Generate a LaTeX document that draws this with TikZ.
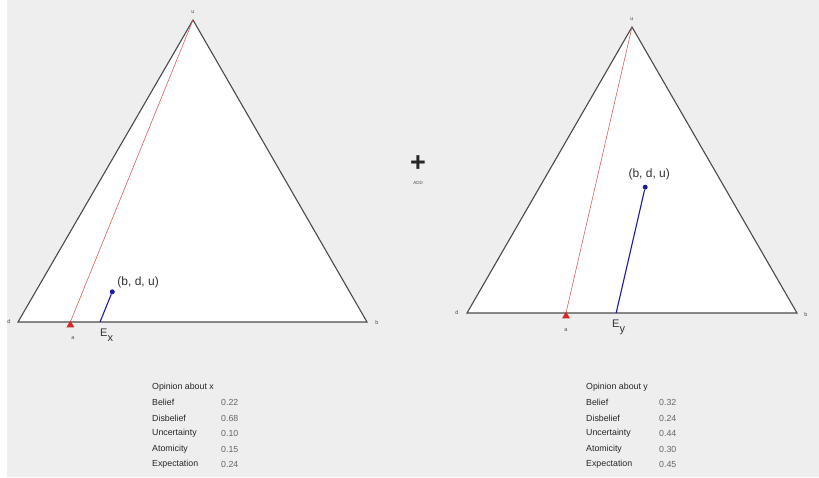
\documentclass[tikz,border=0pt]{standalone}
\usepackage{fontspec}
\setmainfont{Liberation Sans}
\usetikzlibrary{calc, positioning, shapes.geometric}
\definecolor{panelgray}{HTML}{EEEEEE}
\definecolor{edgegray}{HTML}{4A4A4A}
\definecolor{optblue}{HTML}{1C1CA0}
\definecolor{ratered}{HTML}{D42A2A}

\begin{document}
\begin{tikzpicture}[x=1pt, y=-1pt,
    simplex/.style={draw=edgegray, line width=1.1pt, fill=white},
    cornerlabel/.style={font=\fontsize{5.5}{6}\selectfont, text=black!70, inner sep=0pt},
    opdot/.style={circle, fill=optblue, inner sep=0pt, minimum size=5pt},
    oplabel/.style={font=\fontsize{12}{14}\selectfont, text=black!80, inner sep=0pt},
    projline/.style={draw=optblue, line width=1.1pt},
    rateline/.style={draw=ratered!75, line width=0.6pt},
    ratemark/.style={regular polygon, regular polygon sides=3, fill=ratered, inner sep=0pt, minimum size=9pt},
    explabel/.style={font=\fontsize{11}{13}\selectfont, text=black!80, inner sep=0pt},
    rowname/.style={font=\fontsize{8.8}{10}\selectfont, text=black!85, anchor=west, inner sep=0pt},
    rowvalue/.style={font=\fontsize{8.8}{10}\selectfont, text=black!60, anchor=west, inner sep=0pt}]
  % background
  \fill[panelgray] (0,0) rectangle (819,477);
  \fill[white] (0,0) rectangle (7,477);
  \useasboundingbox (0,0) rectangle (819,477);

  % opinion about x
  \coordinate (xd) at (18,322);
  \coordinate (xb) at (367,322);
  \coordinate (xu) at (193,20);
  \draw[simplex] (xd) -- (xb) -- (xu) -- cycle;
  \node[cornerlabel] (xul) at (193,12) {u};
  \node[cornerlabel] (xdl) at (9,322) {d};
  \node[cornerlabel] (xbl) at (377,323) {b};
  \coordinate (xa) at ($(xd)!0.15!(xb)$);
  \coordinate (xe) at ($(xd)!0.235!(xb)$);
  \draw[rateline] (xu) -- (xa);
  \node[ratemark] (xam) at ($(xa)+(0,3)$) {};
  \node[cornerlabel] (xal) at (73,338) {a};
  \node[opdot] (xp) at (barycentric cs:xb=0.22,xd=0.68,xu=0.10) {};
  \draw[projline] (xp) -- (xe);
  \node[oplabel, anchor=south west] (xpl) at ($(xp)+(5,-4)$) {(b, d, u)};
  \node[explabel, anchor=north west] (xel) at (100,329) {E\raisebox{-0.4em}{x}};

  % add
  \node[font=\fontsize{27}{27}\bfseries\selectfont, text=black!85, inner sep=0pt] (plus) at (418,164) {+};
  \node[cornerlabel, font=\fontsize{4.5}{5}\selectfont] (addl) at (418,183) {ADD};

  % opinion about y
  \coordinate (yd) at (467,313);
  \coordinate (yb) at (797,313);
  \coordinate (yu) at (632,27);
  \draw[simplex] (yd) -- (yb) -- (yu) -- cycle;
  \node[cornerlabel] (yul) at (632,19) {u};
  \node[cornerlabel] (ydl) at (457,313) {d};
  \node[cornerlabel] (ybl) at (806,315) {b};
  \coordinate (ya) at ($(yd)!0.30!(yb)$);
  \coordinate (ye) at ($(yd)!0.452!(yb)$);
  \draw[rateline] (yu) -- (ya);
  \node[ratemark] (yam) at ($(ya)+(0,3)$) {};
  \node[cornerlabel] (yal) at (566,330) {a};
  \node[opdot] (yp) at (barycentric cs:yb=0.32,yd=0.24,yu=0.44) {};
  \draw[projline] (yp) -- (ye);
  \node[oplabel, anchor=south] (ypl) at ($(yp)+(4,-7)$) {(b, d, u)};
  \node[explabel, anchor=north west] (yel) at (612,320) {E\raisebox{-0.4em}{y}};

  % table x
  \node[rowname] (xt0) at (152,387) {Opinion about x};
  \node[rowname] (xt1) at (152,402) {Belief};
  \node[rowname] (xt2) at (152,418) {Disbelief};
  \node[rowname] (xt3) at (152,433) {Uncertainty};
  \node[rowname] (xt4) at (152,449) {Atomicity};
  \node[rowname] (xt5) at (152,464) {Expectation};
  \node[rowvalue] (xv1) at (221,402) {0.22};
  \node[rowvalue] (xv2) at (221,418) {0.68};
  \node[rowvalue] (xv3) at (221,433) {0.10};
  \node[rowvalue] (xv4) at (221,449) {0.15};
  \node[rowvalue] (xv5) at (221,464) {0.24};

  % table y
  \node[rowname] (yt0) at (586,387) {Opinion about y};
  \node[rowname] (yt1) at (586,402) {Belief};
  \node[rowname] (yt2) at (586,418) {Disbelief};
  \node[rowname] (yt3) at (586,433) {Uncertainty};
  \node[rowname] (yt4) at (586,449) {Atomicity};
  \node[rowname] (yt5) at (586,464) {Expectation};
  \node[rowvalue] (yv1) at (659,402) {0.32};
  \node[rowvalue] (yv2) at (659,418) {0.24};
  \node[rowvalue] (yv3) at (659,433) {0.44};
  \node[rowvalue] (yv4) at (659,449) {0.30};
  \node[rowvalue] (yv5) at (659,464) {0.45};
\end{tikzpicture}
\end{document}
